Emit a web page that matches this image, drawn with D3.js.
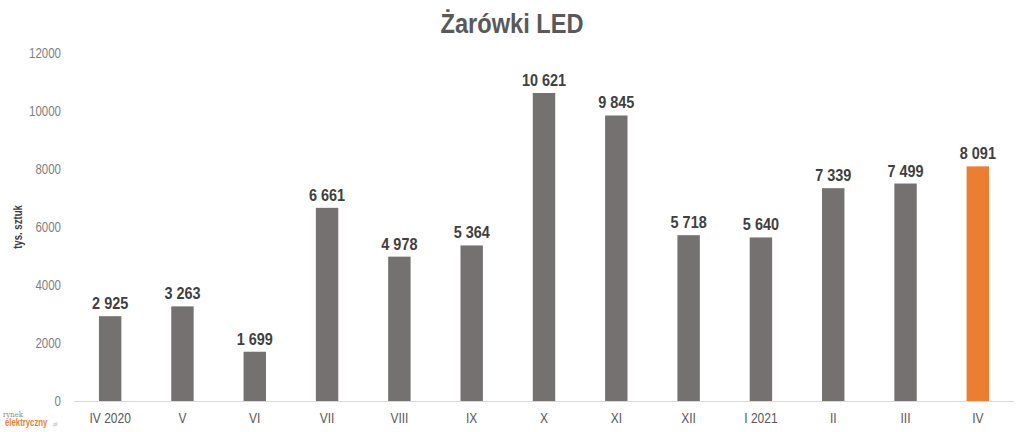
<!DOCTYPE html>
<html lang="pl">
  <head>
    <meta charset="UTF-8" />
    <title>Żarówki LED</title>
    <script src="https://cdn.jsdelivr.net/npm/d3@7"></script>
    <style>
      body { margin: 0; background: #fff; }
      text { font-family: "Liberation Sans", Arial, sans-serif; }
      .yaxis .tick text { fill: #7f7f7f; font-size: 14px; }
      .xaxis .tick text { fill: #595959; font-size: 15px; }
      .value { font-size: 17px; font-weight: bold; fill: #404040; }
    </style>
  </head>
  <body>
    <svg width="1024" height="432"></svg>
    <script>
      const categories = ['IV 2020', 'V', 'VI', 'VII', 'VIII', 'IX', 'X', 'XI', 'XII', 'I 2021', 'II', 'III', 'IV'];
      const values = [2925, 3263, 1699, 6661, 4978, 5364, 10621, 9845, 5718, 5640, 7339, 7499, 8091];
      const yTicks = [0, 2000, 4000, 6000, 8000, 10000, 12000];

      const svg = d3.select('svg');
      const fmt = d => d3.format(',')(d).replace(/,/g, ' ');
      // no Arial Narrow here, so squeeze the text horizontally
      const narrow = (px, py, s) => `translate(${px},${py}) scale(${s},1)`;

      const x = d3.scaleBand().domain(categories).range([74, 1014]).paddingInner(0.69).paddingOuter(0.345);
      const y = d3.scaleLinear().domain([0, 12000]).range([401, 53]);

      // title
      svg.append('text')
        .attr('transform', narrow(512, 33, 0.875))
        .attr('text-anchor', 'middle')
        .style('font-size', '27px').style('font-weight', 'bold')
        .style('fill', '#595959')
        .text('Żarówki LED');

      // y axis (no line)
      const yAxis = svg.append('g')
        .attr('class', 'yaxis')
        .attr('transform', 'translate(61,0)')
        .call(d3.axisLeft(y).tickValues(yTicks).tickSize(0).tickPadding(0).tickFormat(d3.format('d')));
      yAxis.select('.domain').remove();
      yAxis.selectAll('.tick text').attr('x', 0).attr('transform', 'scale(0.82,1)');

      svg.append('text')
        .attr('transform', 'translate(22,227) rotate(-90) scale(0.8,1)')
        .attr('text-anchor', 'middle')
        .style('font-size', '12px').style('font-weight', 'bold').style('fill', '#404040')
        .text('tys. sztuk');

      // bars
      svg.append('g').selectAll('rect')
        .data(values)
        .join('rect')
        .attr('x', (d, i) => x(categories[i]))
        .attr('y', d => y(d))
        .attr('width', x.bandwidth())
        .attr('height', d => y(0) - y(d))
        .attr('fill', (d, i) => i === values.length - 1 ? '#ed7d31' : '#767171');

      // value labels
      svg.append('g').selectAll('text')
        .data(values)
        .join('text')
        .attr('class', 'value')
        .attr('transform', (d, i) => narrow(x(categories[i]) + x.bandwidth() / 2, y(d) - 7, 0.85))
        .attr('text-anchor', 'middle')
        .text(fmt);

      // x axis
      const xAxis = svg.append('g')
        .attr('class', 'xaxis')
        .attr('transform', 'translate(0,401)')
        .call(d3.axisBottom(x).tickSize(0).tickPadding(0));
      xAxis.select('.domain').attr('stroke', '#d9d9d9').attr('d', 'M74,0.5H1014');
      xAxis.selectAll('.tick text').attr('y', 0).attr('dy', null)
        .attr('transform', 'translate(0,22) scale(0.8,1)');

      // logo
      svg.append('text')
        .attr('x', 3).attr('y', 417)
        .style('font-family', '"DejaVu Serif", serif')
        .style('font-size', '8px').style('fill', '#8c8c8c')
        .attr('textLength', 20).attr('lengthAdjust', 'spacingAndGlyphs')
        .text('rynek');
      svg.append('text')
        .attr('transform', narrow(5, 426, 0.78))
        .style('font-size', '10px').style('font-weight', 'bold').style('fill', '#ed7d31')
        .text('elektryczny');
      svg.append('text')
        .attr('x', 52).attr('y', 426)
        .style('font-size', '5px').style('fill', '#a6a6a6')
        .text('.pl');
    </script>
  </body>
</html>
